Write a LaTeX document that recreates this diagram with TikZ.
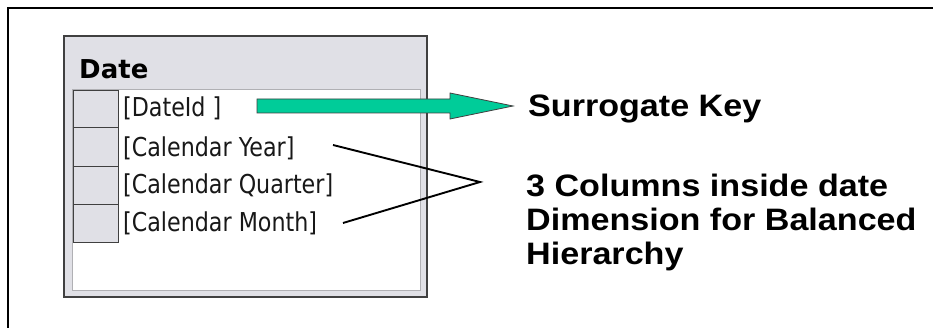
\documentclass[tikz,border=0pt]{standalone}
\usepackage{fontspec}
\newfontfamily\tabfont[FakeStretch=0.854]{DejaVu Sans}
\newfontfamily\hdrfont{DejaVu Sans}
\newfontfamily\notefont[FakeStretch=1.1]{Liberation Sans}
\usetikzlibrary{calc}
\definecolor{panelgray}{RGB}{224,224,230}
\definecolor{boxedge}{RGB}{64,64,64}
\definecolor{inneredge}{RGB}{176,176,180}
\definecolor{keygreen}{RGB}{0,204,153}
\definecolor{txtdark}{RGB}{24,24,24}
\tikzset{
  tabtxt/.style={font=\tabfont\fontsize{26}{30}\selectfont, text=txtdark, inner sep=0pt, anchor=base west},
  hdrtxt/.style={font=\hdrfont\bfseries\fontsize{26}{30}\selectfont, text=black, inner sep=0pt, anchor=base west},
  notetxt/.style={font=\notefont\bfseries\fontsize{31}{34}\selectfont, text=black, inner sep=0pt, anchor=base west, align=left},
  keycell/.style={fill=panelgray, draw=boxedge, line width=1pt},
  pointer/.style={draw=black, line width=1.9pt},
}
\begin{document}
\begin{tikzpicture}[x=1pt,y=-1pt]
\useasboundingbox (0,0) rectangle (933,328);
\fill[white] (0,0) rectangle (933,328);
% outer frame (top and left only)
\draw[black, line width=1.5pt] (8,328) -- (8,8) -- (933,8);
% table
\draw[fill=panelgray, draw=boxedge, line width=1.6pt] (64,36) rectangle (427,297);
\draw[fill=white, draw=inneredge, line width=1pt] (72,90) rectangle (420,290);
\foreach \ya/\yb in {91/128,128/167,167/205,205/243}{
  \draw[keycell] (73,\ya) rectangle (118,\yb);
}
\node[hdrtxt] (hdr) at (79,79) {Date};
\node[tabtxt] (r1) at (123,117) {[DateId ]};
\node[tabtxt] (r2) at (123,157) {[Calendar Year]};
\node[tabtxt] (r3) at (123,194) {[Calendar Quarter]};
\node[tabtxt] (r4) at (123,232) {[Calendar Month]};
% notes
\node[notetxt] (sk) at (528,117) {Surrogate Key};
\node[notetxt] (desc) at (526,265) {3 Columns inside date\\Dimension for Balanced\\Hierarchy};
% green arrow
\coordinate (as) at (257,106);
\coordinate (at) at (513,106);
\draw[fill=keygreen, draw=boxedge, line width=0.8pt]
  ($(as)+(0,-7)$) -- ($(at)+(-63,-7)$) -- ($(at)+(-63,-13)$) -- (at)
  -- ($(at)+(-63,13)$) -- ($(at)+(-63,7)$) -- ($(as)+(0,7)$) -- cycle;
% pointer lines
\coordinate (ys) at (333,145);
\coordinate (ms) at (343,223);
\coordinate (tip) at (480,182);
\draw[pointer] (ys) -- (tip) -- (ms);
\end{tikzpicture}
\end{document}
